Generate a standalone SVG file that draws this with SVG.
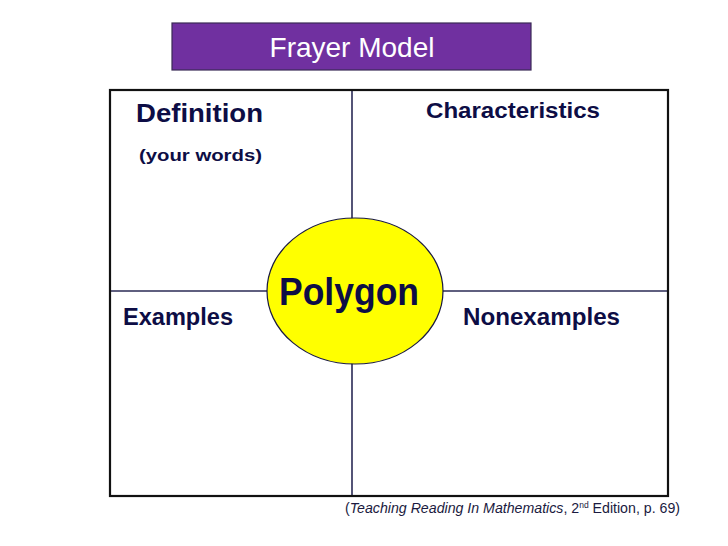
<svg xmlns="http://www.w3.org/2000/svg" width="728" height="546" viewBox="0 0 728 546">
<style>
.lbl{font-family:"Liberation Sans",Arial,sans-serif;font-weight:bold;fill:#0d0d45}
.div{stroke:#2a2a55;stroke-width:1.6;fill:none}
</style>
<rect width="728" height="546" fill="#ffffff"/>
<g id="title">
<rect x="172" y="23" width="359" height="47" fill="#7030a0" stroke="#3a2a55" stroke-width="1.2"/>
<text x="352" y="57" text-anchor="middle" font-family="'Liberation Sans',Arial,sans-serif" font-size="28" fill="#ffffff">Frayer Model</text>
</g>
<g id="connectors">
<line class="div" x1="352" y1="91" x2="352" y2="496"/>
<line class="div" x1="110" y1="291" x2="668" y2="291"/>
</g>
<g id="frame">
<rect x="110" y="90" width="558" height="406" fill="none" stroke="#111111" stroke-width="2.2"/>
</g>
<g id="definition">
<text class="lbl" x="136" y="122" font-size="26" textLength="127" lengthAdjust="spacingAndGlyphs">Definition</text>
<text class="lbl" x="139" y="161" font-size="17" textLength="123" lengthAdjust="spacingAndGlyphs">(your words)</text>
</g>
<g id="characteristics">
<text class="lbl" x="426" y="118" font-size="22" textLength="174" lengthAdjust="spacingAndGlyphs">Characteristics</text>
</g>
<g id="examples">
<text class="lbl" x="123" y="325" font-size="23" textLength="110" lengthAdjust="spacingAndGlyphs">Examples</text>
</g>
<g id="nonexamples">
<text class="lbl" x="463" y="325" font-size="23" textLength="157" lengthAdjust="spacingAndGlyphs">Nonexamples</text>
</g>
<g id="polygon">
<ellipse cx="355" cy="291" rx="88" ry="73" fill="#ffff00" stroke="#1a1a40" stroke-width="1.2"/>
<text class="lbl" x="279" y="305" font-size="38" textLength="140" lengthAdjust="spacingAndGlyphs">Polygon</text>
</g>
<g id="citation">
<text x="345" y="513" font-family="'Liberation Sans',Arial,sans-serif" font-size="15" fill="#1a1a40" textLength="335" lengthAdjust="spacingAndGlyphs">(<tspan font-style="italic">Teaching Reading In Mathematics</tspan>, 2<tspan font-size="9" dy="-5">nd</tspan><tspan dy="5"> Edition,  p. 69)</tspan></text>
</g>
</svg>
